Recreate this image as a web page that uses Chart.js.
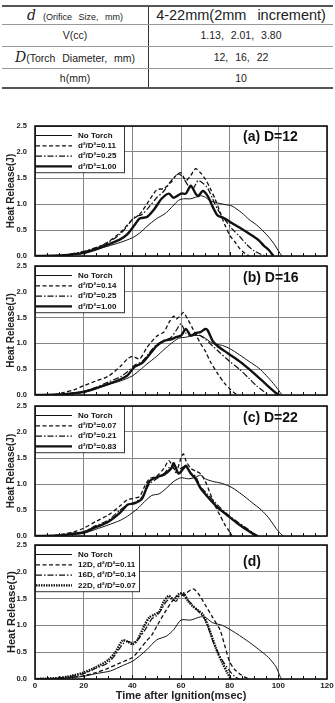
<!DOCTYPE html>
<html>
<head>
<meta charset="utf-8">
<script src="https://cdn.jsdelivr.net/npm/chart.js@4"></script>
<style>
  body { margin: 0; background: #fff; width: 335px; height: 703px; position: relative; overflow: hidden; font-family: 'Liberation Sans', Arial, sans-serif; }
  table { position: absolute; top: 5px; left: 2px; width: 331px; border-collapse: collapse; color: #222; }
  table { border-top: 2px solid #555; border-bottom: 2px solid #555; }
  td { text-align: center; padding: 0; border-bottom: 1px solid #999; font-size: 10.5px; word-spacing: 4px; }
  td.l { width: 146px; border-right: 1px solid #333; }
  .sym { font-family: 'DejaVu Serif', 'Liberation Serif', serif; font-style: italic; font-size: 14px; word-spacing: 0; }
  .small { font-size: 9px; }
  canvas { position: absolute; left: 0; }
</style>
</head>
<body>
<table>
  <tr style="height:18px"><td class="l"><span class="sym">d</span> <span class="small">(Orifice Size, mm)</span></td><td style="font-size:14.5px; word-spacing:7px">4-22mm(2mm increment)</td></tr>
  <tr style="height:22px"><td class="l">V(cc)</td><td>1.13, 2.01, 3.80</td></tr>
  <tr style="height:22px"><td class="l"><span class="sym">D</span>(Torch Diameter, mm)</td><td>12, 16, 22</td></tr>
  <tr style="height:20px"><td class="l">h(mm)</td><td>10</td></tr>
</table>

<canvas id="chartA" width="335" height="142" style="top:120px"></canvas>
<canvas id="chartB" width="335" height="140" style="top:261px"></canvas>
<canvas id="chartC" width="335" height="140" style="top:401px"></canvas>
<canvas id="chartD" width="335" height="163" style="top:540px"></canvas>

<script>
// ---- data: [time (msec), heat release (J)] ----

// (a) D=12
const aNoTorch = [[0,0],[8,0],[12,0.01],[16,0.03],[20,0.05],[25,0.12],[30,0.19],[35,0.26],[40,0.35],[43,0.44],[46,0.57],[50,0.72],[53,0.8],[55,0.88],[57,0.98],[59,1.07],[61,1.1],[64,1.1],[66,1.13],[68,1.16],[70,1.13],[72,1.06],[75,1.02],[78,0.99],[81,0.96],[85,0.83],[88,0.7],[91,0.6],[95,0.42],[98,0.25],[100,0.1],[101.5,0]];
const a011 = [[0,0],[10,0.01],[15,0.03],[20,0.08],[25,0.15],[30,0.27],[35,0.45],[40,0.7],[43,0.8],[46,1.0],[50,1.27],[53,1.3],[56,1.42],[58,1.55],[60,1.6],[62,1.45],[64,1.55],[66,1.68],[68,1.6],[70,1.48],[72,1.3],[74,1.1],[76,0.85],[78,0.6],[80,0.4],[82,0.28],[84,0.15],[86,0.06],[88,0]];
const a025 = [[0,0],[10,0.01],[15,0.04],[20,0.09],[25,0.16],[30,0.26],[35,0.42],[38,0.58],[41,0.75],[44,0.8],[47,0.95],[50,1.12],[53,1.25],[56,1.45],[59,1.58],[61,1.5],[63,1.35],[65,1.3],[67,1.45],[69,1.4],[71,1.3],[73,1.1],[75,0.9],[78,0.7],[81,0.52],[84,0.38],[87,0.22],[90,0.1],[93,0.03],[95,0]];
const a100 = [[0,0],[10,0.01],[15,0.03],[20,0.06],[25,0.13],[30,0.22],[35,0.32],[38,0.42],[41,0.6],[43,0.72],[46,0.75],[49,0.9],[52,1.1],[55,1.2],[57,1.12],[60,1.2],[62,1.2],[64,1.35],[66,1.2],[67,1.15],[69,1.25],[71,1.15],[73,0.95],[75,0.78],[78,0.72],[81,0.63],[85,0.52],[89,0.4],[92,0.3],[94,0.2],[96,0.12],[98,0]];

// (b) D=16
const bNoTorch = [[0,0],[8,0],[12,0.01],[16,0.03],[20,0.05],[25,0.12],[30,0.2],[35,0.27],[40,0.37],[43,0.48],[46,0.6],[50,0.75],[53,0.88],[56,1.0],[59,1.1],[62,1.12],[65,1.15],[68,1.15],[70,1.1],[73,1.0],[77,0.96],[80,0.9],[84,0.78],[88,0.65],[92,0.52],[95,0.38],[98,0.22],[100,0.1],[101.5,0]];
const b014 = [[0,0],[8,0.01],[12,0.05],[16,0.1],[20,0.18],[25,0.27],[30,0.36],[35,0.55],[38,0.7],[40,0.75],[43,0.7],[46,0.92],[50,1.14],[53,1.22],[55,1.4],[57,1.53],[58,1.47],[60,1.55],[61,1.6],[63,1.45],[65,1.27],[68,1.0],[70,0.85],[72,0.65],[75,0.42],[78,0.22],[80,0.12],[82,0.04],[83.5,0]];
const b025 = [[0,0],[10,0.01],[15,0.03],[20,0.07],[25,0.15],[30,0.25],[35,0.35],[38,0.45],[41,0.58],[44,0.65],[47,0.82],[50,0.98],[53,1.05],[56,1.12],[58,1.25],[60,1.38],[62,1.2],[64,1.15],[66,1.18],[68,1.15],[70,1.08],[73,0.95],[76,0.82],[80,0.65],[84,0.5],[88,0.32],[91,0.18],[94,0.07],[96,0]];
const b100 = [[0,0],[10,0.01],[15,0.03],[20,0.06],[25,0.13],[30,0.21],[35,0.3],[38,0.38],[41,0.55],[44,0.62],[47,0.78],[50,0.95],[53,1.05],[56,1.08],[58,1.12],[60,1.15],[62,1.28],[64,1.15],[66,1.2],[68,1.22],[70,1.28],[71,1.25],[73,1.05],[75,0.95],[78,0.85],[82,0.72],[86,0.58],[90,0.42],[94,0.25],[97,0.12],[99,0.04],[100.5,0]];

// (c) D=22
const cNoTorch = [[0,0],[8,0],[12,0.01],[16,0.03],[20,0.05],[25,0.13],[30,0.21],[35,0.3],[38,0.38],[42,0.52],[45,0.66],[48,0.78],[51,0.81],[54,0.92],[57,1.05],[60,1.12],[63,1.1],[66,1.13],[68,1.17],[70,1.1],[73,1.05],[77,1.01],[81,0.93],[85,0.8],[89,0.65],[93,0.5],[96,0.35],[99,0.15],[101,0.04],[102,0]];
const c007 = [[0,0],[8,0.01],[12,0.04],[16,0.08],[20,0.15],[25,0.28],[30,0.4],[35,0.58],[38,0.7],[40,0.72],[43,0.76],[45,0.95],[47,1.1],[50,1.15],[53,1.3],[55,1.45],[57,1.3],[58,1.22],[60,1.5],[61,1.58],[62,1.45],[64,1.3],[66,1.25],[68,1.2],[70,1.05],[72,0.82],[74,0.58],[76,0.4],[78,0.22],[80,0.08],[81,0]];
const c021 = [[0,0],[10,0.01],[15,0.04],[20,0.08],[25,0.2],[30,0.3],[35,0.5],[38,0.6],[41,0.65],[44,0.75],[47,1.0],[50,1.1],[53,1.2],[56,1.35],[58,1.25],[60,1.3],[62,1.35],[64,1.22],[66,1.15],[68,0.95],[71,0.8],[75,0.6],[79,0.42],[83,0.28],[87,0.15],[90,0.05],[92,0]];
const c083 = [[0,0],[10,0.01],[15,0.04],[20,0.07],[25,0.17],[30,0.27],[35,0.45],[38,0.6],[41,0.63],[44,0.72],[47,1.05],[50,1.13],[53,1.18],[56,1.3],[57,1.4],[59,1.2],[61,1.3],[62,1.35],[64,1.2],[66,1.1],[68,0.92],[71,0.75],[75,0.55],[79,0.4],[83,0.25],[87,0.12],[90,0.03],[91,0]];

// (d) comparison
const dNoTorch = [[0,0],[8,0],[12,0.01],[16,0.03],[20,0.05],[25,0.1],[31,0.15],[36,0.25],[40,0.33],[43,0.43],[46,0.55],[50,0.73],[54,0.8],[57,0.92],[60,1.1],[64,1.1],[68,1.16],[70,1.15],[73,1.05],[77,1.0],[81,0.9],[87,0.72],[92,0.55],[96,0.4],[99,0.23],[100.7,0.05],[101.4,0]];
const d12D = [[0,0],[10,0.01],[15,0.03],[20,0.06],[25,0.12],[30,0.2],[35,0.3],[40,0.4],[43,0.55],[46,0.72],[48,0.82],[50,0.98],[54,1.29],[58,1.54],[60,1.55],[62,1.6],[65,1.68],[67,1.6],[70,1.38],[73,1.15],[76,0.92],[78,0.62],[80,0.32],[82,0.18],[84,0.1],[86,0.04],[88,0]];
const d16D = [[0,0],[10,0.02],[15,0.05],[20,0.1],[25,0.2],[30,0.3],[33,0.45],[36,0.65],[38,0.7],[40,0.68],[42,0.72],[45,0.9],[48,1.12],[50,1.18],[52,1.3],[54,1.45],[56,1.5],[58,1.45],[60,1.6],[62,1.5],[64,1.42],[66,1.32],[68,1.22],[70,1.1],[72,0.85],[74,0.6],[77,0.35],[80,0.15],[82,0.05],[84,0]];
const d22D = [[0,0],[10,0.02],[15,0.06],[20,0.12],[25,0.22],[30,0.35],[33,0.5],[36,0.72],[38,0.7],[40,0.65],[42,0.72],[45,1.0],[47,1.15],[49,1.2],[51,1.25],[53,1.45],[55,1.55],[57,1.48],[59,1.58],[61,1.6],[63,1.45],[65,1.35],[67,1.28],[69,1.2],[71,1.0],[73,0.75],[75,0.5],[77,0.3],[79,0.12],[80.5,0]];

// axis ticks
const xTicks = [0, 20, 40, 60, 80, 100, 120];
const yTicks = [0, 0.5, 1.0, 1.5, 2.0, 2.5];

// ---- line styles ----
const INK = '#111';
const styleThin   = { borderWidth: 1 };
const styleDash   = { borderWidth: 1.3, borderDash: [4, 2.5] };
const styleDashDot = { borderWidth: 1.2, borderDash: [6, 2, 1.5, 2] };
const styleThick  = { borderWidth: 2.4 };
const styleDotted = { borderWidth: 2.4, borderDash: [1.5, 1] };

const FONT = "'Liberation Sans', Arial, sans-serif";

function series(label, pts, style) {
    return Object.assign({
        label: label,
        data: pts.map(p => ({ x: p[0], y: p[1] })),
        borderColor: INK,
        borderDash: [],
        pointRadius: 0,
        fill: false,
        tension: 0.25
    }, style);
}

// frame, minor ticks, legend box and panel label drawn over the plot
function decorPlugin(panelText, labelDy, boxW) {
    return {
        id: 'decor',
        afterDraw(chart) {
            const ctx = chart.ctx;
            const a = chart.chartArea;
            const xs = chart.scales.x;
            ctx.save();

            // minor ticks on bottom edge, every 5 msec
            ctx.strokeStyle = INK;
            ctx.lineWidth = 1;
            ctx.beginPath();
            for (let v = 5; v < 120; v += 5) {
                const px = Math.round(xs.getPixelForValue(v)) + 0.5;
                ctx.moveTo(px, a.bottom);
                ctx.lineTo(px, a.bottom - (v % 20 === 0 ? 4 : 3));
            }
            ctx.stroke();

            // legend box
            const ds = chart.data.datasets;
            const rowH = 10.3;
            const boxH = ds.length * rowH + 5;
            ctx.fillStyle = '#fff';
            ctx.fillRect(a.left, a.top, boxW, boxH);
            ctx.lineWidth = 1;
            ctx.strokeStyle = '#333';
            ctx.strokeRect(a.left + 0.5, a.top + 0.5, boxW, boxH);
            ctx.font = 'bold 8px ' + FONT;
            ctx.textBaseline = 'middle';
            ds.forEach((d, i) => {
                const y = a.top + 9.5 + i * rowH;
                ctx.beginPath();
                ctx.setLineDash(d.borderDash || []);
                ctx.lineWidth = d.borderWidth;
                ctx.strokeStyle = INK;
                ctx.moveTo(a.left + 1, y);
                ctx.lineTo(a.left + 37, y);
                ctx.stroke();
                ctx.setLineDash([]);
                ctx.fillStyle = INK;
                ctx.fillText(d.label, a.left + 43, y);
            });

            // panel label
            ctx.font = 'bold 14px ' + FONT;
            ctx.textBaseline = 'middle';
            ctx.fillText(panelText, 243, a.top + labelDy);

            // outer frame
            ctx.lineWidth = 1.6;
            ctx.strokeStyle = INK;
            ctx.strokeRect(a.left, a.top, a.right - a.left, a.bottom - a.top);
            ctx.restore();
        }
    };
}

// drop the half-label padding Chart.js adds around the plot
function noScalePadding(s) {
    s.paddingTop = 0;
    s.paddingBottom = 0;
    s.paddingLeft = 0;
    s.paddingRight = 0;
}

function makePanel(id, datasets, opt) {
    const el = document.getElementById(id);
    return new Chart(el.getContext('2d'), {
        type: 'line',
        data: { datasets: datasets },
        options: {
            responsive: false,
            animation: false,
            events: [],
            layout: { padding: { left: 0, right: 8, top: opt.padTop, bottom: opt.padBottom } },
            plugins: { legend: { display: false }, tooltip: { enabled: false } },
            scales: {
                x: {
                    type: 'linear', min: 0, max: 120,
                    afterBuildTicks: s => { s.ticks = xTicks.map(v => ({ value: v })); },
                    ticks: { display: opt.showX, color: '#222', font: { family: FONT, size: 8, weight: 'bold' }, padding: 2, maxRotation: 0 },
                    grid: { color: '#858585', lineWidth: 1, drawTicks: false },
                    border: { display: false },
                    title: { display: opt.showX, text: 'Time after Ignition(msec)', color: '#222', font: { family: FONT, size: 11, weight: 'bold' }, padding: 0 },
                    afterFit: s => { s.height = opt.showX ? 24 : 0; noScalePadding(s); }
                },
                y: {
                    min: 0, max: 2.5,
                    afterBuildTicks: s => { s.ticks = yTicks.map(v => ({ value: v })); },
                    ticks: { color: '#222', font: { family: FONT, size: 7.5, weight: 'bold' }, padding: 8, callback: v => v.toFixed(1) },
                    grid: { color: '#858585', lineWidth: 1, drawTicks: false },
                    border: { display: false },
                    title: { display: true, text: 'Heat Release(J)', color: '#222', font: { family: FONT, size: opt.titleSize, weight: 'bold' }, padding: { top: 5, bottom: 0 } },
                    afterFit: s => { s.width = 35; noScalePadding(s); }
                }
            }
        },
        plugins: [decorPlugin(opt.panel, opt.labelDy, opt.boxW)]
    });
}

const charts = {};

charts.a = makePanel('chartA', [
    series('No Torch', aNoTorch, styleThin),
    series('d\u00B2/D\u00B2=0.11', a011, styleDash),
    series('d\u00B2/D\u00B2=0.25', a025, styleDashDot),
    series('d\u00B2/D\u00B2=1.00', a100, styleThick)
], { padTop: 6, padBottom: 6, showX: false, panel: '(a) D=12', labelDy: 11, boxW: 89, titleSize: 10 });

charts.b = makePanel('chartB', [
    series('No Torch', bNoTorch, styleThin),
    series('d\u00B2/D\u00B2=0.14', b014, styleDash),
    series('d\u00B2/D\u00B2=0.25', b025, styleDashDot),
    series('d\u00B2/D\u00B2=1.00', b100, styleThick)
], { padTop: 5, padBottom: 6, showX: false, panel: '(b) D=16', labelDy: 12, boxW: 89, titleSize: 10 });

charts.c = makePanel('chartC', [
    series('No Torch', cNoTorch, styleThin),
    series('d\u00B2/D\u00B2=0.07', c007, styleDash),
    series('d\u00B2/D\u00B2=0.21', c021, styleDashDot),
    series('d\u00B2/D\u00B2=0.83', c083, styleThick)
], { padTop: 5, padBottom: 5, showX: false, panel: '(c) D=22', labelDy: 12, boxW: 89, titleSize: 10 });

charts.d = makePanel('chartD', [
    series('No Torch', dNoTorch, styleThin),
    series('12D, d\u00B2/D\u00B2=0.11', d12D, styleDash),
    series('16D, d\u00B2/D\u00B2=0.14', d16D, styleDashDot),
    series('22D, d\u00B2/D\u00B2=0.07', d22D, styleDotted)
], { padTop: 5, padBottom: 0, showX: true, panel: '(d)', labelDy: 17, boxW: 104, titleSize: 11 });
</script>
</body>
</html>
